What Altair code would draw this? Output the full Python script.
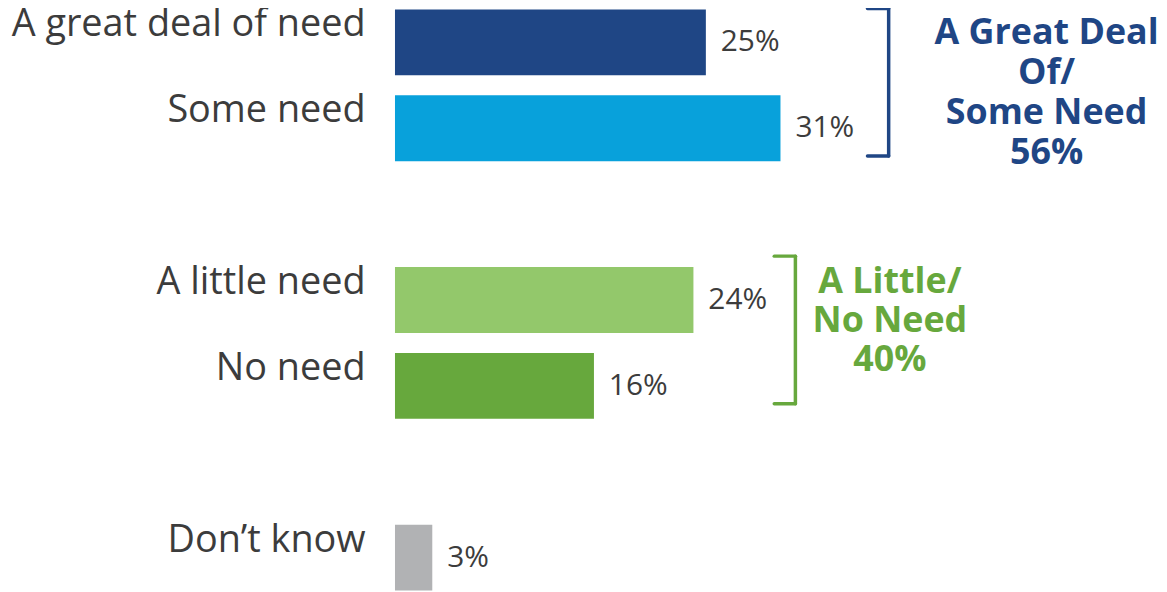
import altair as alt
import pandas as pd

# ---- data ----
categories = ["A great deal of need", "Some need", "A little need", "No need", "Don\u2019t know"]
values = [25, 31, 24, 16, 3]
bar_colors = ["#1f4685", "#08a1db", "#93c86b", "#67a83d", "#b1b2b4"]
gap_slots = ["gap1", "gap2"]
y_domain = [categories[0], categories[1], gap_slots[0], categories[2], categories[3], gap_slots[1], categories[4]]

group_names = ["A Great Deal\nOf/\nSome Need", "A Little/\nNo Need"]
group_totals = [56, 40]
group_colors = ["#1f4685", "#67a83d"]

FONT = "Open Sans"
TEXT_COLOR = "#3c3c3c"

bars_df = pd.DataFrame({
    "cat": categories,
    "value": values,
    "label": [f"{v}%" for v in values],
})

x_scale = alt.Scale(domain=[0, 60], nice=False, zero=True)
y_scale = alt.Scale(domain=y_domain, paddingInner=0.233, paddingOuter=0, range=[0, 584])
y_axis = alt.Axis(
    labelExpr="indexof(datum.label, 'gap') === 0 ? '' : datum.label",
    ticks=False, domain=False, grid=False,
    labelPadding=30, labelFontSize=38, labelColor=TEXT_COLOR, labelFont=FONT,
    labelOffset=-17, labelLimit=500, labelBaseline="middle",
)


def Y(field, bp=None):
    kw = dict(scale=y_scale, axis=y_axis, title=None)
    if bp is not None:
        kw["bandPosition"] = bp
    return alt.Y(field, type="nominal", **kw)


def X(field):
    return alt.X(field, type="quantitative", scale=x_scale, axis=None, title=None)


bars = alt.Chart(bars_df).mark_bar().encode(
    x=X("value"),
    y=Y("cat"),
    color=alt.Color("cat:N", scale=alt.Scale(domain=categories, range=bar_colors), legend=None),
)

value_labels = alt.Chart(bars_df).mark_text(
    align="left", baseline="middle", dx=15, fontSize=30, font=FONT, color=TEXT_COLOR
).encode(x=X("value"), y=Y("cat"), text="label:N")


def bracket(top_cat, top_off, bot_cat, bot_off, x_line, x_tick, color):
    d = pd.DataFrame({"top": [top_cat], "bot": [bot_cat], "xl": [x_line], "xt": [x_tick]})
    style = dict(color=color, strokeWidth=3.5, strokeCap="round")
    vert = alt.Chart(d).mark_rule(yOffset=top_off, y2Offset=bot_off, **style).encode(
        x=X("xl"), y=Y("top", 0), y2=alt.Y2("bot", bandPosition=0))
    t1 = alt.Chart(d).mark_rule(yOffset=top_off, **style).encode(
        x=X("xt"), x2="xl:Q", y=Y("top", 0))
    t2 = alt.Chart(d).mark_rule(yOffset=bot_off, **style).encode(
        x=X("xt"), x2="xl:Q", y=Y("bot", 0))
    return vert + t1 + t2


def group_text(name, total, anchor_cat, dy, x_pos, color, lh):
    d = pd.DataFrame({"cat": [anchor_cat], "x": [x_pos], "t": [f"{name}\n{total}%"]})
    return alt.Chart(d).mark_text(
        align="center", baseline="middle", dy=dy, fontSize=36, fontWeight="bold",
        font=FONT, color=color, lineBreak="\n", lineHeight=lh,
    ).encode(x=X("x"), y=Y("cat", 0), text="t:N")


chart = alt.layer(
    bars,
    value_labels,
    bracket(categories[0], -1, categories[1], 61, 39.7, 38.0, group_colors[0]),
    bracket(categories[2], -11, categories[3], 51, 32.2, 30.5, group_colors[1]),
    group_text(group_names[0], group_totals[0], categories[0], 24, 52.4, group_colors[0], 40),
    group_text(group_names[1], group_totals[1], categories[2], 15, 39.8, group_colors[1], 39),
).properties(
    width=750, height=584,
    padding={"left": 389, "top": 0, "right": 18, "bottom": 0},
    autosize=alt.AutoSizeParams(type="none"),
).configure_view(stroke=None)

chart.save("out.html", embed_options={"renderer": "svg", "actions": False})
